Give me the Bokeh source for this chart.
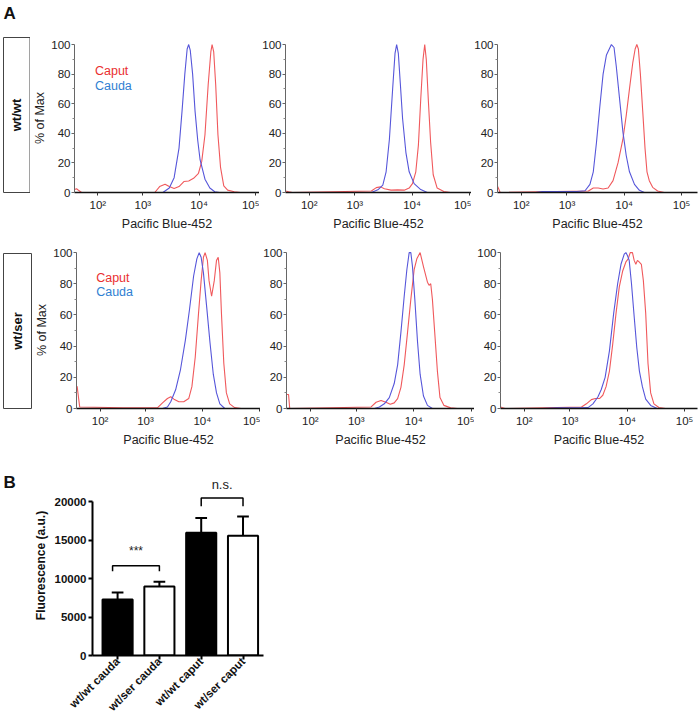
import math
import numpy as np
from bokeh.plotting import figure
from bokeh.layouts import row, column
from bokeh.models import Range1d, FixedTicker, Label
from bokeh.core.properties import value
from bokeh.embed import file_html
from bokeh.resources import INLINE

# ------------------------------------------------------------------
# Panel A data: fluorescence intensity (Pacific Blue-452) vs % of Max
# ------------------------------------------------------------------
row_labels = ["wt/wt", "wt/ser"]
legend_labels = ["Caput", "Cauda"]
x_tick_values = [1e2, 1e3, 1e4, 1e5]
x_tick_labels = ["10\u00b2", "10\u00b3", "10\u2074", "10\u2075"]
y_tick_values = [0, 20, 40, 60, 80, 100]
y_minor_values = [10, 30, 50, 70, 90]

# wt/wt, mouse 1
wtwt1_caput_x = [-97, -80, -63, -37, 1640, 2000, 2500, 2970, 3620, 4420, 5390, 6560, 8010, 9780,
                 11170, 12740, 14530, 16180, 17030, 18200, 19720, 21620, 24040, 27420, 32140, 41980, 54700]
wtwt1_caput_y = [2, 2.5, 1.5, 0, 0, 4, 5.6, 4, 2.7, 4, 7.4, 7.8, 9.6, 13,
                 21, 39, 73, 95, 100, 95, 73, 39, 17, 4.5, 1.6, 0.5, 0]
wtwt1_cauda_x = [2285, 2970, 3620, 4420, 5000, 5600, 6160, 6560, 7000, 7700, 8500, 9500, 10450,
                 12740, 15550, 18970, 23000]
wtwt1_cauda_y = [0, 3, 10, 30, 55, 80, 97, 100, 96, 80, 55, 35, 22, 9, 3, 0.5, 0]

# wt/wt, mouse 2
wtwt2_caput_x = [-97, -70, -40, 1950, 2380, 2820, 3300, 4300, 5600, 7310, 8910, 10170, 11630, 12910,
                 14180, 15550, 16640, 17710, 19190, 21080, 23390, 27420, 35770, 46660]
wtwt2_caput_y = [1, 0.5, 0, 1, 3.3, 3.8, 2.5, 1.6, 1.8, 1.6, 3, 6, 14, 32,
                 63, 90, 100, 90, 63, 34, 12, 3, 0.7, 0]
wtwt2_cauda_x = [1950, 2535, 3090, 3530, 4030, 4590, 5050, 5390, 5770, 6240, 6840, 7820, 8910,
                 10870, 14180, 18450]
wtwt2_cauda_y = [0, 1.8, 5, 14, 36, 70, 94, 100, 94, 74, 50, 27, 14, 6, 2, 0]

# wt/wt, mouse 3
wtwt3_caput_x = [-97, -85, -75, 2380, 2900, 3530, 4300, 5260, 6410, 7820, 9520, 10870, 12390, 14180,
                 15550, 16640, 17710, 19190, 21080, 23100, 25000, 27420, 31400, 38300, 49800]
wtwt3_caput_y = [4, 2, 0, 1, 3, 3, 2.4, 3, 8, 20, 36, 52, 70, 88,
                 97, 100, 97, 80, 55, 30, 14, 8, 3.5, 1, 0]
wtwt3_cauda_x = [250, 350, 1500, 2080, 2535, 2900, 3300, 3770, 4300, 4920, 6000, 6670, 7310, 8340,
                 9520, 10870, 12390, 15140, 18450, 22480]
wtwt3_cauda_y = [0, 0.7, 0.7, 1.2, 5.5, 14, 34, 58, 80, 93, 100, 98, 85, 63, 41, 25, 14, 5.5, 1.5, 0]

# wt/ser, mouse 1
wtser1_caput_x = [-97, -92, -81, -70, 385, 1640, 2000, 2440, 2790, 3180, 3870, 4720, 5770, 6560, 7510,
                  8570, 9520, 10450, 11170, 12250, 13100, 14530, 16180, 17710, 18970, 20270, 21620,
                  23770, 26380, 30130, 36800, 47900]
wtser1_caput_y = [14, 14, 7.5, 1, 0.5, 0.5, 3.6, 6.4, 7.5, 6, 4.3, 4.3, 6.4, 14, 33,
                  61, 82, 97, 100, 95, 82, 72, 82, 95, 97, 87, 61,
                  29, 10, 3, 0.6, 0]
wtser1_cauda_x = [1996, 2440, 2790, 3400, 4140, 5050, 5930, 7030, 8010, 8810, 9520, 10450, 11920,
                  13640, 15550, 17710, 20270, 24720]
wtser1_cauda_y = [0, 1, 4.3, 12, 25, 44, 63, 85, 96, 100, 97, 87, 65, 42, 22, 10, 3, 0]

# wt/ser, mouse 2
wtser2_caput_x = [-97, -80, -70, 1820, 2223, 2710, 3300, 3920, 4590, 5260, 6000, 6840, 7820, 8910,
                  10170, 11320, 12910, 14750, 17300, 18450, 19720, 21080, 23100, 25720, 28530, 33440,
                  43650, 56900]
wtser2_caput_y = [9, 9, 0, 1, 4, 5.2, 4, 2.7, 3.6, 6.3, 13.6, 28, 49, 70,
                  89, 96, 100, 91, 81, 79, 80, 70, 49, 24, 7, 2, 0.4, 0]
wtser2_cauda_x = [2080, 2535, 3090, 3770, 4590, 5260, 6000, 6840, 7600, 8340, 8910, 9520, 10450,
                  11630, 12910, 14750, 17300, 21080]
wtser2_cauda_y = [0, 1, 3, 7, 16, 28, 49, 72, 89, 100, 100, 91, 70, 43, 22, 8, 2, 0]

# wt/ser, mouse 3
wtser3_caput_x = [-97, -80, -60, 1600, 1950, 2380, 2790, 3300, 3770, 4300, 4920, 5600, 6410, 7310,
                  8340, 9520, 10450, 11320, 12390, 13270, 14180, 15140, 16180, 17710, 19190, 21080,
                  23100, 25720, 29300, 35770, 46660]
wtser3_caput_y = [1, 0.5, 0, 1, 3, 5.7, 6.4, 6.4, 8.5, 14, 24, 41, 61, 78,
                  88, 94, 96, 100, 100, 95, 92.5, 95, 94, 92.5, 82, 61,
                  29, 10, 3, 0.6, 0]
wtser3_cauda_x = [300, 615, 1500, 2080, 2535, 3090, 3530, 4140, 4920, 5830, 6840, 7820, 8910, 9520,
                  10170, 10870, 11920, 13270, 14750, 16370, 18450, 21080, 25720, 33440]
wtser3_cauda_y = [0, 0.5, 0.5, 0.6, 3, 7.4, 12, 20, 37, 61, 80, 92.5, 99, 100,
                  98, 95, 80, 59, 39, 24, 14, 6, 2, 0]

# ------------------------------------------------------------------
# Panel B data
# ------------------------------------------------------------------
categories = ["wt/wt cauda", "wt/ser cauda", "wt/wt caput", "wt/ser caput"]
means = [7300, 9000, 16000, 15600]
sems = [900, 600, 1900, 2500]
bar_fill = ["black", "white", "black", "white"]
y_ticks_b = [0, 5000, 10000, 15000, 20000]
sig_pairs = [(0, 1), (2, 3)]
sig_text = ["***", "n.s."]
sig_top = [11700, 20500]
sig_leg = [10970, 19450]
sig_text_y = [12700, 21300]

# ------------------------------------------------------------------
# style
# ------------------------------------------------------------------
FONT = "Liberation Sans"
CAPUT_LINE = "#f0595c"
CAUDA_LINE = "#5656da"
CAPUT_TEXT = "#ea2f31"
CAUDA_TEXT = "#2f80d2"
COFACTOR = 200.0          # biexponential-like (arcsinh) display
PX_PER_DECADE = 58.0
X_START = -98.0


def biex(v):
    return np.arcsinh(np.asarray(v, dtype=float) / COFACTOR) / np.log(10)


U0 = float(biex(X_START))
XT = [round(float(biex(t)), 6) for t in x_tick_values]


def clean(p):
    p.outline_line_color = None
    p.xgrid.visible = False
    p.ygrid.visible = False
    p.background_fill_color = "white"
    p.border_fill_color = "white"
    try:
        p.frame_align = False
    except Exception:
        pass


def hist_panel(caput_x, caput_y, cauda_x, cauda_y, width, height, left, right, top, bottom,
               ylabel=False, legend_y=None, legend_dx=21):
    frame_w = width - left - right
    p = figure(width=width, height=height, output_backend="svg", toolbar_location=None,
               x_range=Range1d(U0, U0 + frame_w / PX_PER_DECADE), y_range=Range1d(0, 100.7),
               min_border_left=left, min_border_right=right,
               min_border_top=top, min_border_bottom=bottom)
    clean(p)
    p.line(biex(caput_x), caput_y, line_color=CAPUT_LINE, line_width=1.1)
    p.line(biex(cauda_x), cauda_y, line_color=CAUDA_LINE, line_width=1.1)

    xa = p.xaxis[0]
    xa.ticker = FixedTicker(ticks=XT)
    xa.major_label_overrides = dict(zip(XT, x_tick_labels))
    xa.axis_label = "Pacific Blue-452"
    xa.axis_label_text_font = FONT
    xa.axis_label_text_font_style = "normal"
    xa.axis_label_text_font_size = "12.5px"
    xa.axis_label_text_color = "#222222"
    xa.axis_label_standoff = 3
    xa.major_label_text_font = FONT
    xa.major_label_text_font_size = "11.5px"
    xa.major_label_text_color = "#222222"
    xa.major_label_standoff = 3
    xa.axis_line_color = "#111111"
    xa.axis_line_width = 1.4
    xa.major_tick_line_color = "#333333"
    xa.major_tick_out = 3
    xa.major_tick_in = 0
    xa.minor_tick_line_color = None

    ya = p.yaxis[0]
    ya.ticker = FixedTicker(ticks=y_tick_values, minor_ticks=y_minor_values)
    ya.bounds = (0, 100)
    ya.major_label_text_font = FONT
    ya.major_label_text_font_size = "11.5px"
    ya.major_label_text_color = "#222222"
    ya.major_label_standoff = 1
    ya.axis_line_color = "#666666"
    ya.axis_line_width = 1
    ya.major_tick_line_color = "#666666"
    ya.major_tick_out = 3
    ya.major_tick_in = 0
    ya.minor_tick_line_color = "#888888"
    ya.minor_tick_out = 2
    ya.minor_tick_in = 0
    if ylabel:
        ya.axis_label = "% of Max"
        ya.axis_label_text_font = FONT
        ya.axis_label_text_font_style = "normal"
        ya.axis_label_text_font_size = "12.5px"
        ya.axis_label_text_color = "#222222"
        ya.axis_label_standoff = 1
    if legend_y is not None:
        lx = U0 + legend_dx / PX_PER_DECADE
        for txt, col, yy in zip(legend_labels, [CAPUT_TEXT, CAUDA_TEXT], legend_y):
            p.add_layout(Label(x=lx, y=yy, text=txt, text_color=col, text_font=FONT,
                               text_font_size="12.5px", text_baseline="middle"))
    return p


def box_panel(width, height, box_left, box_right, box_top, box_bottom, text, letter=None):
    p = figure(width=width, height=height, output_backend="svg", toolbar_location=None,
               x_range=Range1d(0, width), y_range=Range1d(0, height), min_border=0,
               x_axis_location=None, y_axis_location=None)
    clean(p)
    p.quad(left=[box_left], right=[box_right], top=[height - box_top], bottom=[height - box_bottom],
           fill_color=None, line_color="#444444", line_width=1)
    p.text(x=[(box_left + box_right) / 2], y=[height - (box_top + box_bottom) / 2], text=[text],
           angle=math.pi / 2, text_font=value(FONT), text_font_style="bold", text_font_size="13px",
           text_align="center", text_baseline="middle", text_color="#111111")
    if letter:
        p.text(x=[3], y=[height - 3], text=[letter], text_font=value(FONT),
               text_font_style="bold", text_font_size="17px", text_align="left",
               text_baseline="top", text_color="#111111")
    return p


def letter_panel(width, height, letter, top):
    p = figure(width=width, height=height, output_backend="svg", toolbar_location=None,
               x_range=Range1d(0, width), y_range=Range1d(0, height), min_border=0,
               x_axis_location=None, y_axis_location=None)
    clean(p)
    p.text(x=[3], y=[height - top], text=[letter], text_font=value(FONT),
           text_font_style="bold", text_font_size="17px", text_align="left",
           text_baseline="top", text_color="#111111")
    return p


def bar_panel():
    n = len(categories)
    xs = np.arange(1, n + 1)
    p = figure(width=280, height=260, output_backend="svg", toolbar_location=None,
               x_range=Range1d(0.40, 4.49), y_range=Range1d(0, 23439),
               min_border_left=62, min_border_right=47, min_border_top=15, min_border_bottom=63)
    clean(p)
    tops = np.array(means) + np.array(sems)
    p.segment(x0=xs, y0=means, x1=xs, y1=tops, line_color="black", line_width=2)
    p.segment(x0=xs - 0.14, y0=tops, x1=xs + 0.14, y1=tops, line_color="black", line_width=2)
    p.vbar(x=xs, top=means, bottom=0, width=0.72, fill_color=bar_fill, line_color="black",
           line_width=2)
    for (a, b), txt, yt, yl, ty in zip(sig_pairs, sig_text, sig_top, sig_leg, sig_text_y):
        xa_, xb_ = xs[a], xs[b]
        if txt == "***":
            xa_ = xa_ - 0.12
        p.line(x=[xa_, xa_, xb_, xb_], y=[yl, yt, yt, yl], line_color="black", line_width=1.5)
        p.text(x=[(xa_ + xb_) / 2], y=[ty], text=[txt], text_font=value(FONT),
               text_font_size="13px" if txt != "***" else "12px",
               text_align="center", text_baseline="bottom", text_color="#222222")

    xa = p.xaxis[0]
    xa.ticker = FixedTicker(ticks=list(xs))
    xa.major_label_overrides = {int(i): c for i, c in zip(xs, categories)}
    xa.major_label_orientation = math.pi / 4
    xa.major_label_text_font = FONT
    xa.major_label_text_font_style = "bold"
    xa.major_label_text_font_size = "11.5px"
    xa.major_label_text_color = "#111111"
    xa.major_label_standoff = 0
    xa.axis_line_width = 2
    xa.axis_line_color = "black"
    xa.major_tick_line_width = 2
    xa.major_tick_out = 4
    xa.major_tick_in = 0
    xa.minor_tick_line_color = None

    ya = p.yaxis[0]
    ya.ticker = FixedTicker(ticks=y_ticks_b)
    ya.bounds = (0, 20000)
    ya.axis_label = "Fluorescence (a.u.)"
    ya.axis_label_text_font = FONT
    ya.axis_label_text_font_style = "bold"
    ya.axis_label_text_font_size = "12px"
    ya.axis_label_text_color = "#111111"
    ya.axis_label_standoff = 4
    ya.major_label_text_font = FONT
    ya.major_label_text_font_style = "bold"
    ya.major_label_text_font_size = "11.5px"
    ya.major_label_text_color = "#111111"
    ya.major_label_standoff = 2
    ya.axis_line_width = 2
    ya.axis_line_color = "black"
    ya.major_tick_line_width = 2
    ya.major_tick_out = 4
    ya.major_tick_in = 0
    ya.minor_tick_line_color = None
    return p


# ---------------- layout ----------------
boxA = box_panel(30, 240, 3, 29.5, 37, 192, row_labels[0], letter="A")
p1 = hist_panel(wtwt1_caput_x, wtwt1_caput_y, wtwt1_cauda_x, wtwt1_cauda_y, 229, 240, 39, 0, 43, 48,
                ylabel=True, legend_y=(82, 72))
p2 = hist_panel(wtwt2_caput_x, wtwt2_caput_y, wtwt2_cauda_x, wtwt2_cauda_y, 212, 240, 24, 0, 43, 48)
p3 = hist_panel(wtwt3_caput_x, wtwt3_caput_y, wtwt3_cauda_x, wtwt3_cauda_y, 229, 240, 24, 3, 43, 48)

boxB = box_panel(32, 220, 3, 31, 13, 168, row_labels[1])
q1 = hist_panel(wtser1_caput_x, wtser1_caput_y, wtser1_cauda_x, wtser1_cauda_y, 228, 220, 41, 0, 11, 52,
                ylabel=True, legend_y=(84, 75), legend_dx=20)
q2 = hist_panel(wtser2_caput_x, wtser2_caput_y, wtser2_cauda_x, wtser2_cauda_y, 214, 220, 25, 0, 11, 52)
q3 = hist_panel(wtser3_caput_x, wtser3_caput_y, wtser3_cauda_x, wtser3_cauda_y, 226, 220, 24, 3, 11, 52)

labB = letter_panel(30, 260, "B", 12)
bars = bar_panel()

layout = column(row(boxA, p1, p2, p3), row(boxB, q1, q2, q3), row(labB, bars))

with open("out.html", "w") as f:
    f.write(file_html(layout, INLINE))
